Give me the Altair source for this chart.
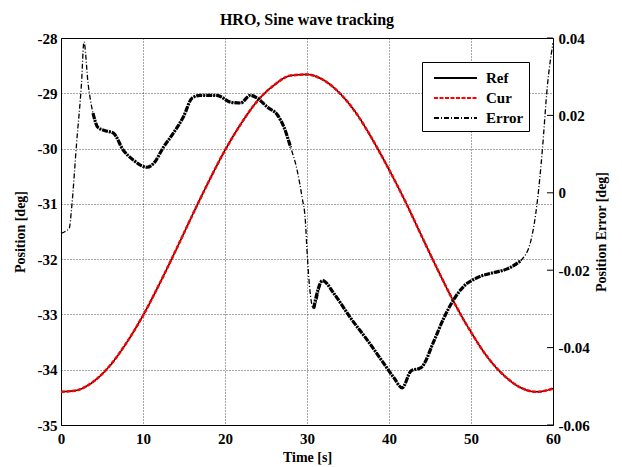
import altair as alt
import pandas as pd

# ---- data ----
t_pos = [0, 1, 2, 4, 6, 8, 10, 12, 14, 16, 18, 20, 22, 24, 26, 28, 30,
         32, 34, 36, 38, 40, 42, 44, 46, 48, 50, 52, 54, 56, 58, 60]
ref_pos = [-34.40, -34.39, -34.37, -34.21, -33.92, -33.51, -33.02, -32.45,
           -31.84, -31.21, -30.60, -30.03, -29.54, -29.13, -28.85, -28.68,
           -28.66, -28.76, -29.00, -29.36, -29.84, -30.38, -30.96, -31.59,
           -32.21, -32.80, -33.32, -33.77, -34.10, -34.32, -34.40, -34.34]
cur_pos = [-34.40, -34.39, -34.37, -34.21, -33.92, -33.51, -33.02, -32.45,
           -31.84, -31.21, -30.60, -30.03, -29.54, -29.13, -28.85, -28.68,
           -28.66, -28.76, -29.00, -29.36, -29.84, -30.38, -30.96, -31.59,
           -32.21, -32.80, -33.32, -33.77, -34.10, -34.32, -34.40, -34.34]

t_err = [0, 0.5, 1.0, 1.3, 1.9, 2.5, 2.8, 3.3, 3.9, 4.5, 5.5, 6.4, 7.6, 8.8,
         10.5, 11.3, 12.5, 13.7, 14.9, 16, 17, 19, 20.7, 21.9, 23.1, 23.9,
         25.2, 26.4, 27.2, 28, 28.8, 29.4, 29.8, 30.0, 30.3, 30.8, 31.9, 33.3,
         35.3, 37.4, 39.4, 40.6, 41.6, 42.7, 43.9, 45.5, 46.7, 47.8, 49.2,
         50.8, 52.8, 54.5, 56.1, 57.3, 58.1, 58.7, 59.3, 60]
err = [-0.0105, -0.0100, -0.0092, -0.0038, 0.0128, 0.0283, 0.0390, 0.0283,
       0.0206, 0.0169, 0.0160, 0.0154, 0.0110, 0.0085, 0.0066, 0.0076,
       0.0118, 0.0154, 0.0195, 0.0245, 0.0252, 0.0252, 0.0234, 0.0232,
       0.0252, 0.0245, 0.0221, 0.0201, 0.0169, 0.0118, 0.0058, -0.0012,
       -0.0072, -0.0149, -0.0240, -0.0299, -0.0227, -0.0261, -0.0323,
       -0.0382, -0.0442, -0.0478, -0.0504, -0.0460, -0.0452, -0.0382,
       -0.0323, -0.0279, -0.0240, -0.0219, -0.0206, -0.0196, -0.0175,
       -0.0124, -0.0020, 0.0110, 0.0273, 0.0387]

right_ticks = [-0.06, -0.04, -0.02, 0, 0.02, 0.04]
series_names = ["Ref", "Cur", "Error"]
series_colors = ["#000000", "#ff0000", "#000000"]
series_dash = [[1, 0], [4, 1.5], [5, 2, 1, 2]]

FONT = "Liberation Serif"

ref_df = pd.DataFrame({"t": t_pos, "pos": ref_pos, "series": "Ref"})
cur_df = pd.DataFrame({"t": t_pos, "pos": cur_pos, "series": "Cur"})
err_df = pd.DataFrame({"t": t_err, "err": err, "series": "Error"})
tick_df = pd.DataFrame({"tick": right_ticks})

x_enc = alt.X("t:Q", scale=alt.Scale(domain=[0, 60], nice=False),
              axis=alt.Axis(values=[0, 10, 20, 30, 40, 50, 60], title="Time [s]",
                            grid=True, ticks=False, labelPadding=6, titlePadding=4,
                            labelFlush=False))

color_scale = alt.Scale(domain=series_names, range=series_colors)
dash_scale = alt.Scale(domain=series_names, range=series_dash)
legend = alt.Legend(title=None, orient="none", legendX=361, legendY=24,
                    symbolType="M-0.4,0H3.9", symbolSize=400, symbolStrokeWidth=2,
                    labelFontSize=15, labelFont=FONT, labelFontWeight="bold",
                    labelColor="black",
                    strokeColor="black", fillColor="white", padding=5,
                    rowPadding=1, labelOffset=37)
color_enc = alt.Color("series:N", scale=color_scale, legend=legend)
dash_enc = alt.StrokeDash("series:N", scale=dash_scale, legend=legend)

y_left = alt.Y("pos:Q", scale=alt.Scale(domain=[-35, -28], nice=False),
               axis=alt.Axis(values=[-35, -34, -33, -32, -31, -30, -29, -28],
                             title="Position [deg]", grid=True, ticks=False,
                             labelPadding=4, titlePadding=10, labelFlush=False,
                             labelExpr="toString(datum.value)"))

ref_line = alt.Chart(ref_df).mark_line(strokeWidth=1.5, interpolate="monotone").encode(
    x=x_enc, y=y_left, color=color_enc, strokeDash=dash_enc)
cur_line = alt.Chart(cur_df).mark_line(strokeWidth=2.5, interpolate="monotone").encode(
    x=x_enc, y=y_left, color=color_enc, strokeDash=dash_enc)

y_right_scale = alt.Scale(domain=[-0.06, 0.04], nice=False)
right_axis = alt.Axis(orient="right", values=right_ticks,
                      title="Position Error [deg]", grid=False, ticks=False,
                      labelPadding=5, titlePadding=19, titleAngle=270,
                      labelFlush=False, labelExpr="toString(datum.value)")
y_err = alt.Y("err:Q", scale=y_right_scale, axis=right_axis)
err_line = alt.Chart(err_df).mark_line(strokeWidth=1.3, interpolate="monotone").encode(
    x=x_enc, y=y_err, color=color_enc, strokeDash=dash_enc,
)
# the jittery stretches of the error trace appear as a thick band
err_band = alt.Chart(err_df).transform_filter(
    "(datum.t >= 3.9 && datum.t <= 28.0) || (datum.t >= 30.8 && datum.t <= 56.1)"
).transform_calculate(seg="datum.t < 30 ? 'a' : 'b'").mark_line(
    strokeWidth=3.2, color="black", interpolate="monotone", strokeDash=[6, 1, 2, 1]
).encode(x=x_enc, y=y_err, detail="seg:N")
tick_marks = alt.Chart(tick_df).mark_rule(color="black", strokeWidth=1).encode(
    y=alt.Y("tick:Q", scale=y_right_scale, axis=right_axis),
    x=alt.value(486), x2=alt.value(492),
)

chart = alt.layer(
    alt.layer(ref_line, cur_line),
    alt.layer(err_line, err_band, tick_marks),
).resolve_scale(y="independent").properties(
    width=492, height=387,
    title=alt.Title("HRO, Sine wave tracking", font=FONT, fontSize=16,
                    fontWeight="bold", color="black", offset=3),
    autosize=alt.AutoSizeParams(type="none"),
    padding={"left": 53, "top": 30, "right": 60, "bottom": 40},
).configure_view(stroke="black", strokeWidth=1).configure_axis(
    labelFont=FONT, labelFontSize=15, labelFontWeight="bold", labelColor="black",
    titleFont=FONT, titleFontSize=14, titleFontWeight="bold", titleColor="black",
    domainColor="black", gridColor="#000000", gridDash=[1, 2], gridOpacity=0.7,
    gridWidth=1,
)

chart.save("out.html", embed_options={"renderer": "svg", "actions": False})
